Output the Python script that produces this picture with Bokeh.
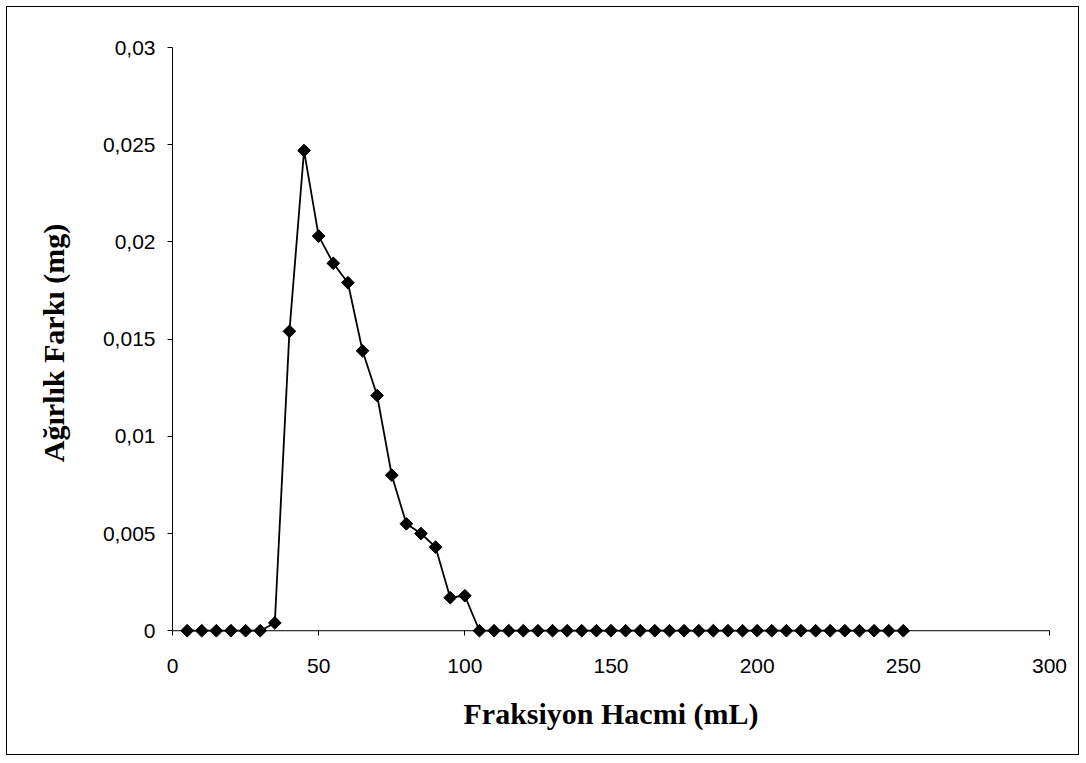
from bokeh.plotting import figure
from bokeh.models import FixedTicker, Range1d, ColumnDataSource, Span
from bokeh.embed import file_html
from bokeh.resources import INLINE

# Fraction volume (mL) and weight difference (mg) per collected fraction
volume_ml = [5, 10, 15, 20, 25, 30, 35, 40, 45, 50,
             55, 60, 65, 70, 75, 80, 85, 90, 95, 100,
             105, 110, 115, 120, 125, 130, 135, 140, 145, 150,
             155, 160, 165, 170, 175, 180, 185, 190, 195, 200,
             205, 210, 215, 220, 225, 230, 235, 240, 245, 250]
weight_diff_mg = [0, 0, 0, 0, 0, 0, 0.0004, 0.0154, 0.0247, 0.0203,
                  0.0189, 0.0179, 0.0144, 0.0121, 0.0080, 0.0055, 0.0050, 0.0043, 0.0017, 0.0018,
                  0, 0, 0, 0, 0, 0, 0, 0, 0, 0,
                  0, 0, 0, 0, 0, 0, 0, 0, 0, 0,
                  0, 0, 0, 0, 0, 0, 0, 0, 0, 0]

x_ticks = [0, 50, 100, 150, 200, 250, 300]
y_ticks = [0, 0.005, 0.01, 0.015, 0.02, 0.025, 0.03]
y_tick_labels = ["0", "0,005", "0,01", "0,015", "0,02", "0,025", "0,03"]

source = ColumnDataSource(data=dict(x=volume_ml, y=weight_diff_mg))

# a little room below zero so the markers on the baseline are not cut off
p = figure(width=1073, height=749, output_backend="svg", toolbar_location=None,
           x_range=Range1d(0, 300), y_range=Range1d(-0.0004, 0.03),
           min_border_left=165, min_border_right=31,
           min_border_top=40, min_border_bottom=118)
p.margin = (6, 0, 0, 6)
p.styles = {"border": "1px solid black"}
p.outline_line_color = None
p.xgrid.visible = False
p.ygrid.visible = False
p.background_fill_color = "white"
p.border_fill_color = "white"

# baseline drawn at zero, serving as the horizontal axis line
p.add_layout(Span(location=0, dimension="width", line_color="black", line_width=1))

p.line("x", "y", source=source, line_color="black", line_width=1.8)
p.scatter("x", "y", source=source, marker="square", size=9, angle=0.785398,
          fill_color="black", line_color="black")

for ax in (p.xaxis, p.yaxis):
    ax.axis_line_color = "black"
    ax.major_tick_line_color = "black"
    ax.minor_tick_line_color = None
    ax.major_label_text_font = "Liberation Sans"
    ax.major_label_text_font_size = "21px"
    ax.major_label_text_color = "black"
    ax.axis_label_text_font = "Liberation Serif"
    ax.axis_label_text_font_style = "bold"
    ax.axis_label_text_font_size = "30px"
    ax.axis_label_text_color = "black"

p.xaxis.ticker = FixedTicker(ticks=x_ticks)
p.xaxis.axis_line_color = None
p.xaxis.major_tick_in = 8
p.xaxis.major_tick_out = -3
p.xaxis.axis_label = "Fraksiyon Hacmi (mL)"
p.xaxis.major_label_standoff = 20
p.xaxis.axis_label_standoff = 21

p.yaxis.ticker = FixedTicker(ticks=y_ticks)
p.yaxis.major_label_overrides = dict(zip(y_ticks, y_tick_labels))
p.yaxis.bounds = (0, 0.03)
p.yaxis.major_tick_in = 0
p.yaxis.major_tick_out = 5
p.yaxis.axis_label = "Ağırlık Farkı (mg)"
p.yaxis.major_label_standoff = 12
p.yaxis.axis_label_standoff = 30

open("out.html", "w").write(file_html(p, INLINE))
